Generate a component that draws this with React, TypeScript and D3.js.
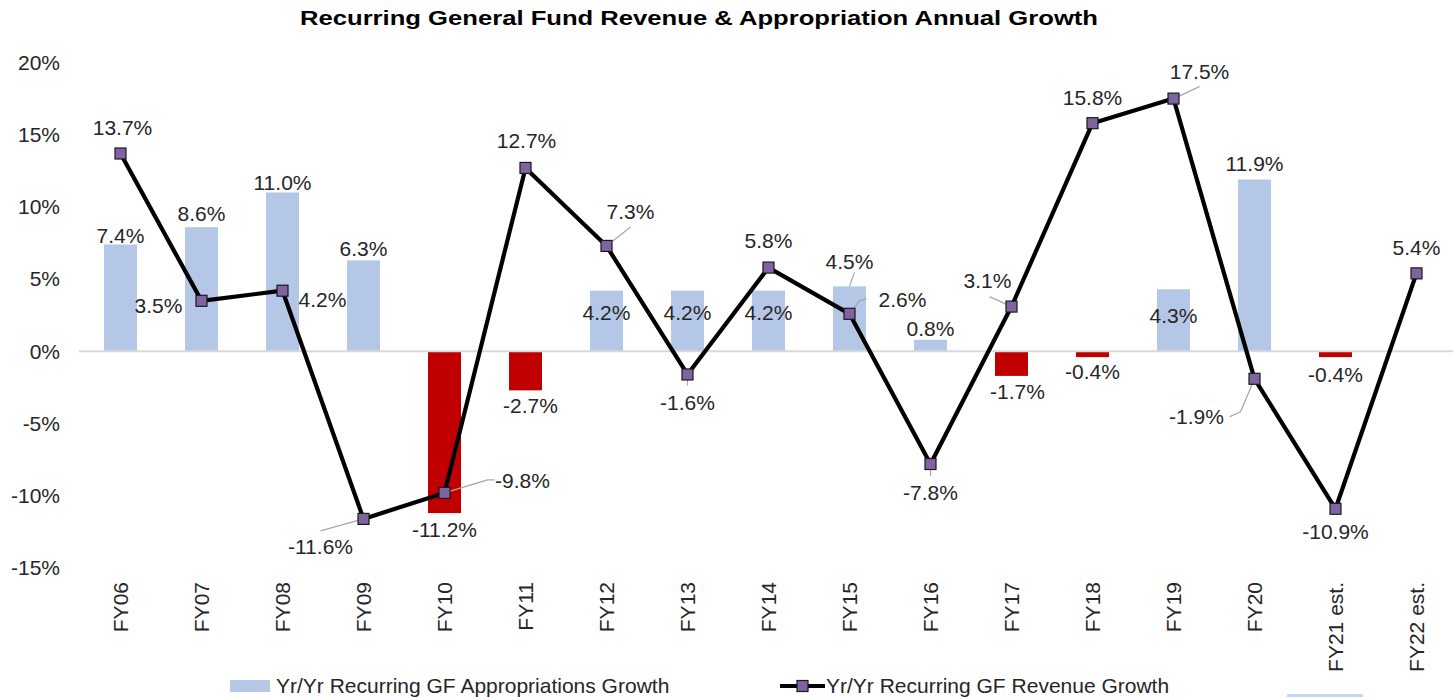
import React from "react";
import * as d3 from "d3";

// chart values
const categories = ["FY06", "FY07", "FY08", "FY09", "FY10", "FY11", "FY12", "FY13", "FY14", "FY15", "FY16", "FY17", "FY18", "FY19", "FY20", "FY21 est.", "FY22 est."];
const appropriations: (number | null)[] = [7.4, 8.6, 11.0, 6.3, -11.2, -2.7, 4.2, 4.2, 4.2, 4.5, 0.8, -1.7, -0.4, 4.3, 11.9, -0.4, null];
const revenue = [13.7, 3.5, 4.2, -11.6, -9.8, 12.7, 7.3, -1.6, 5.8, 2.6, -7.8, 3.1, 15.8, 17.5, -1.9, -10.9, 5.4];
const yTicks = [-15, -10, -5, 0, 5, 10, 15, 20];

const title = "Recurring General Fund Revenue & Appropriation Annual Growth";
const legendBars = "Yr/Yr Recurring GF Appropriations Growth";
const legendLine = "Yr/Yr Recurring GF Revenue Growth";

// label placement (dx, dy from the mark), leader lines where the label was moved
const revLabelPos: [number, number][] = [
  [2, -26], [-43, 5], [40, 9], [-43, 28], [78, -12], [1, -27], [24, -34], [0, 28], [0, -27],
  [53, -14], [0, 29], [-24, -26], [0, -26], [26, -27], [-58, 38], [0, 23], [0, -26],
];
const revLeaders: { [k: number]: [number, number][] } = {
  3: [[0, 0], [-43, 12]],
  4: [[0, 0], [43, -13], [50, -13]],
  6: [[0, 0], [24, -19]],
  7: [[0, 0], [0, 11]],
  9: [[0, 0], [10, -13], [17, -15]],
  10: [[0, 0], [0, 12]],
  11: [[0, 0], [-22, -10]],
  13: [[0, 0], [26, -12]],
  14: [[0, 0], [-14, 33], [-25, 38]],
};
const barLabelPos: [number, number][] = [
  [0, -9], [0, -13], [0, -10], [0, -12], [0, 17], [5, 15], [0, 22], [0, 22], [0, 22],
  [0, -25], [0, -11], [6, 16], [0, 15], [0, 26], [0, -16], [0, 18], [0, 0],
];

const FONT = "'Liberation Sans', Arial, sans-serif";
const FS = 21;
const TEXT = "#262626";
const BLUE = "#B4C7E7";
const RED = "#C00000";
const PURPLE = "#8064A2";

export default function App() {
  const W = 1453;
  const H = 697;
  const x = d3.scalePoint<string>().domain(categories).range([80, 1457]).padding(0.5);
  const y = d3.scaleLinear().domain([-15, 20]).range([568, 62.5]);
  const barW = 33;
  const line = d3
    .line<number>()
    .x((_, i) => x(categories[i]) as number)
    .y((d) => y(d));
  const fmt = (v: number) => `${v.toFixed(1)}%`;

  return (
    <svg width={W} height={H} style={{ position: "absolute", left: 0, top: 0, background: "#fff" }} fontFamily={FONT}>
      <text x={699} y={25} textAnchor="middle" fontWeight="bold" fontSize={21} fill="#000" textLength={798} lengthAdjust="spacingAndGlyphs">
        {title}
      </text>

      {/* y tick labels */}
      {yTicks.map((t) => (
        <text key={t} x={60} y={y(t)} dy="0.35em" textAnchor="end" fontSize={FS} fill={TEXT}>
          {t}%
        </text>
      ))}

      {/* bars */}
      {appropriations.map((v, i) =>
        v === null ? null : (
          <rect
            key={"b" + i}
            x={(x(categories[i]) as number) - barW / 2}
            y={v >= 0 ? y(v) : y(0)}
            width={barW}
            height={Math.abs(y(v) - y(0))}
            fill={v >= 0 ? BLUE : RED}
          />
        )
      )}

      <line x1={79} x2={W} y1={y(0)} y2={y(0)} stroke="#D9D9D9" strokeWidth={2} />

      {/* bar labels */}
      {appropriations.map((v, i) => {
        if (v === null) return null;
        const cx = x(categories[i]) as number;
        const [dx, dy] = barLabelPos[i];
        return (
          <text key={"bl" + i} x={cx + dx} y={y(v) + dy} dy="0.35em" textAnchor="middle" fontSize={FS} fill={TEXT}>
            {fmt(v)}
          </text>
        );
      })}
      {/* FY15 bar leader */}
      <line
        x1={x(categories[9]) as number}
        y1={y(appropriations[9] as number)}
        x2={(x(categories[9]) as number) + 5}
        y2={y(appropriations[9] as number) - 14}
        stroke="#A6A6A6"
        strokeWidth={1.2}
      />

      {/* revenue leaders */}
      {Object.keys(revLeaders).map((k) => {
        const i = +k;
        const cx = x(categories[i]) as number;
        const cy = y(revenue[i]);
        const pts = revLeaders[i].map(([a, b]) => [cx + a, cy + b] as [number, number]);
        return <path key={"ld" + i} d={d3.line()(pts) as string} fill="none" stroke="#A6A6A6" strokeWidth={1.2} />;
      })}

      {/* revenue line */}
      <path d={line(revenue) as string} fill="none" stroke="#000" strokeWidth={4.2} strokeLinejoin="round" />
      {revenue.map((v, i) => (
        <rect
          key={"m" + i}
          x={(x(categories[i]) as number) - 5.5}
          y={y(v) - 5.5}
          width={11}
          height={11}
          fill={PURPLE}
          stroke="#1a1a1a"
          strokeWidth={1.2}
        />
      ))}
      {revenue.map((v, i) => {
        const cx = x(categories[i]) as number;
        const [dx, dy] = revLabelPos[i];
        return (
          <text key={"rl" + i} x={cx + dx} y={y(v) + dy} dy="0.35em" textAnchor="middle" fontSize={FS} fill={TEXT}>
            {fmt(v)}
          </text>
        );
      })}

      {/* category labels */}
      {categories.map((c) => (
        <text
          key={c}
          transform={`translate(${x(c)},582) rotate(-90)`}
          textAnchor="end"
          dy="0.35em"
          fontSize={FS}
          fill={TEXT}
        >
          {c}
        </text>
      ))}

      {/* legend */}
      <rect x={230} y={680} width={40} height={12} fill={BLUE} />
      <text x={276} y={693} fontSize={FS} fill={TEXT}>
        {legendBars}
      </text>
      <line x1={780} x2={825} y1={686} y2={686} stroke="#000" strokeWidth={4.2} />
      <rect x={797} y={680.5} width={11} height={11} fill={PURPLE} stroke="#1a1a1a" strokeWidth={1.2} />
      <text x={826} y={693} fontSize={FS} fill={TEXT}>
        {legendLine}
      </text>
      <rect x={1287} y={694} width={76} height={4} rx={1} fill="#C5D5EE" />
    </svg>
  );
}
